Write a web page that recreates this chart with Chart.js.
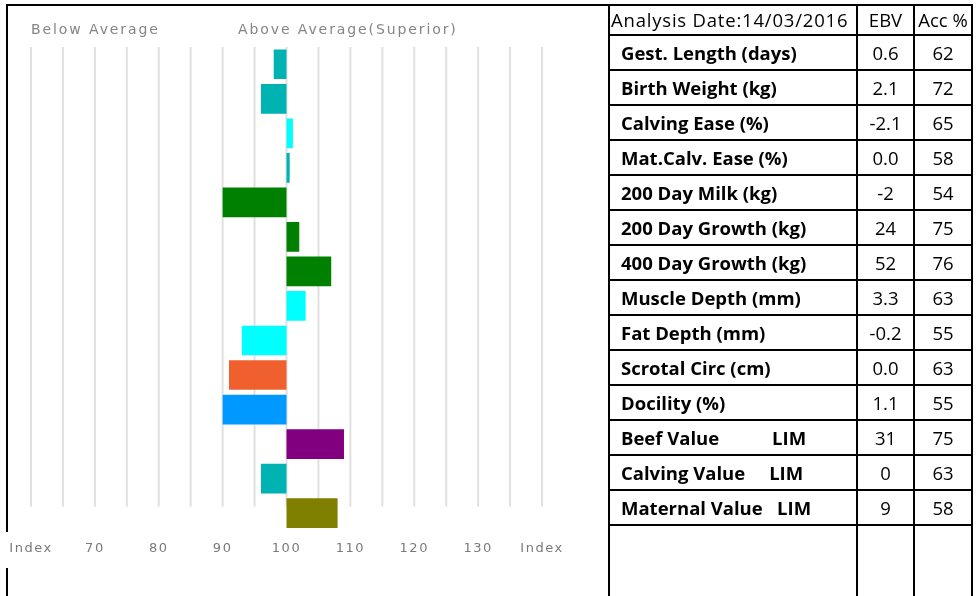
<!DOCTYPE html>
<html>
<head>
<meta charset="utf-8">
<script src="https://cdn.jsdelivr.net/npm/chart.js@4.4.0/dist/chart.umd.min.js"></script>
<style>
  html, body { margin: 0; padding: 0; background: #fff; width: 977px; height: 596px; overflow: hidden; }
  #wrap { position: relative; width: 977px; height: 596px; }
  #myChart { position: absolute; left: 0; top: 0; }
  .hdr { position: absolute; top: 21px; font: 14px "DejaVu Sans"; color: #858585; letter-spacing: 1.9px; white-space: nowrap; }
  .ln { position: absolute; background: #000; }
  #ebv { position: absolute; left: 608px; top: 4px; border-collapse: collapse; table-layout: fixed; width: 363px;
         font-family: "Open Sans", sans-serif; font-size: 18.5px; color: #000; }
  #ebv td { border: 2px solid #000; padding: 0; white-space: pre; overflow: hidden; line-height: 20px; }
  #ebv td.name { font-weight: bold; padding-left: 11px; }
  #ebv td.num { text-align: center; }
  #ebv tr.head td { height: 28px; }
  #ebv tr.head td.first { letter-spacing: 0.8px; padding-left: 1px; }
  #ebv tr.row td { height: 33px; }
  #ebv tr.blank td { height: 90px; border-bottom: none; }
</style>
</head>
<body>
<div id="wrap">
  <canvas id="myChart" width="609" height="596"></canvas>
  <div class="hdr" style="left:31px">Below Average</div>
  <div class="hdr" style="left:238px">Above Average(Superior)</div>
  <div class="ln" style="left:6px; top:4px; width:2px; height:528px"></div>
  <div class="ln" style="left:6px; top:568px; width:2px; height:28px"></div>
  <div class="ln" style="left:6px; top:4px; width:604px; height:2px"></div>
  <table id="ebv"></table>
</div>
<script>
// traits, top to bottom
const traits = ['Gest. Length (days)', 'Birth Weight (kg)', 'Calving Ease (%)', 'Mat.Calv. Ease (%)',
  '200 Day Milk (kg)', '200 Day Growth (kg)', '400 Day Growth (kg)', 'Muscle Depth (mm)',
  'Fat Depth (mm)', 'Scrotal Circ (cm)', 'Docility (%)', 'Beef Value           LIM',
  'Calving Value     LIM', 'Maternal Value   LIM']
// index (100 = breed average)
const indexValues = [98, 96, 101, 100.5, 90, 102, 107, 103, 93, 91, 90, 109, 96, 108]
const ebv = ['0.6', '2.1', '-2.1', '0.0', '-2', '24', '52', '3.3', '-0.2', '0.0', '1.1', '31', '0', '9']
const accuracy = [62, 72, 65, 58, 54, 75, 76, 63, 55, 63, 55, 75, 63, 58]
const barColours = ['#00b2b2', '#00b2b2', '#00ffff', '#00b2b2', '#008000', '#008000', '#008000',
  '#00ffff', '#00ffff', '#f0602f', '#0099ff', '#800080', '#00b2b2', '#808000']
const baseIndex = 100
const tickMin = 60, tickMax = 140, tickStep = 5
const endLabel = 'Index'
const tableHead = ['Analysis Date:14/03/2016', 'EBV', 'Acc %']

// table on the right
const tbl = document.getElementById('ebv')
let html = '<colgroup><col style="width:248px"><col style="width:57px"><col style="width:58px"></colgroup>'
html += '<tr class="head"><td class="first">' + tableHead[0] + '</td><td class="num">' + tableHead[1] + '</td><td class="num">' + tableHead[2] + '</td></tr>'
traits.forEach((t, i) => {
  html += '<tr class="row"><td class="name">' + t + '</td><td class="num">' + ebv[i] + '</td><td class="num">' + accuracy[i] + '</td></tr>'
})
html += '<tr class="blank"><td></td><td></td><td></td></tr>'
tbl.innerHTML = html

// grey index lines, they stop a bit above the last bar
const gridLines = {
  id: 'gridLines',
  beforeDraw(chart) {
    chart.ctx.letterSpacing = '1.5px'
  },
  beforeDatasetsDraw(chart) {
    const { ctx, chartArea, scales } = chart
    ctx.save()
    ctx.strokeStyle = '#e0e0e0'
    ctx.lineWidth = 2
    scales.x.ticks.forEach(t => {
      const x = scales.x.getPixelForValue(t.value)
      ctx.beginPath()
      ctx.moveTo(x, chartArea.top)
      ctx.lineTo(x, chartArea.bottom - 24)
      ctx.stroke()
    })
    ctx.restore()
  }
}

const ctx = document.getElementById('myChart')

new Chart(ctx, {
  type: 'bar',
  data: {
    labels: traits,
    datasets: [{
      data: indexValues.map(v => [baseIndex, v]),
      backgroundColor: barColours,
      borderWidth: 0,
      barPercentage: 0.86,
      categoryPercentage: 1
    }]
  },
  options: {
    indexAxis: 'y',
    responsive: false,
    animation: false,
    devicePixelRatio: 1,
    layout: { padding: { left: 31, right: 67, top: 47, bottom: 38 } },
    plugins: { legend: { display: false }, tooltip: { enabled: false } },
    scales: {
      x: {
        min: tickMin,
        max: tickMax,
        grid: { display: false },
        border: { display: false },
        ticks: {
          stepSize: tickStep,
          autoSkip: false,
          maxRotation: 0,
          padding: 2,
          color: '#7a7a7a',
          font: { family: 'DejaVu Sans', size: 13 },
          callback: v => (v === tickMin || v === tickMax) ? endLabel : (v % 10 === 0 ? String(v) : '')
        }
      },
      y: { display: false }
    }
  },
  plugins: [gridLines]
})
</script>
</body>
</html>
